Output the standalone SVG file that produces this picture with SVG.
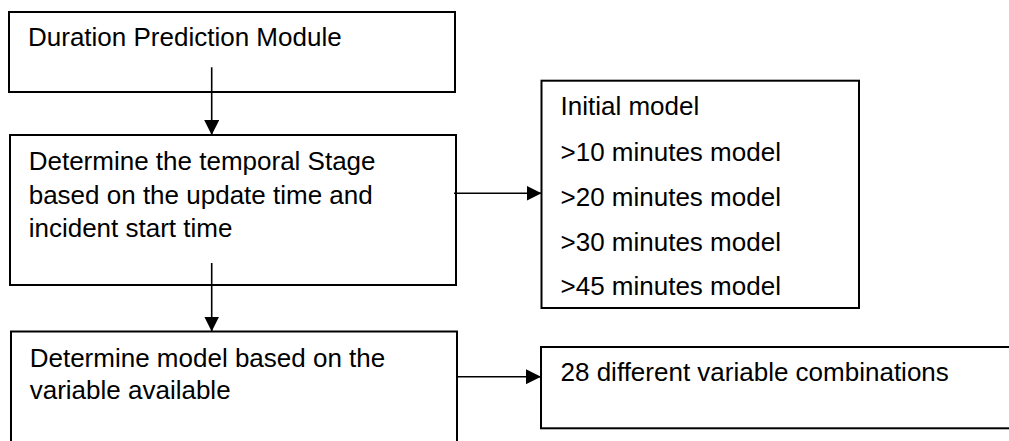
<svg xmlns="http://www.w3.org/2000/svg" width="1009" height="441" viewBox="0 0 1009 441">
<style>
.box{fill:#fff;stroke:#000;stroke-width:2}
.t{font-family:"Liberation Sans",Arial,sans-serif;font-size:26px;fill:#000}
.c{stroke:#000;stroke-width:1.6;fill:none}
</style>
<defs>
<marker id="ah" markerUnits="userSpaceOnUse" markerWidth="15" markerHeight="15" refX="15" refY="7.5" orient="auto">
<path d="M0,0 L15,7.5 L0,15 z" fill="#000"/>
</marker>
</defs>
<rect width="1009" height="441" fill="#fff"/>
<g id="n1">
<rect class="box" x="9" y="12" width="446" height="80"/>
<text class="t" x="28" y="46">Duration Prediction Module</text>
</g>
<g id="n2">
<rect class="box" x="10" y="135" width="446" height="150"/>
<text class="t" x="28.7" y="170">Determine the temporal Stage</text>
<text class="t" x="28.7" y="203.5">based on the update time and</text>
<text class="t" x="28.7" y="237">incident start time</text>
</g>
<g id="n3">
<rect class="box" x="11" y="331.5" width="446" height="130"/>
<text class="t" x="29.7" y="366.7">Determine model based on the</text>
<text class="t" x="29.7" y="399.3">variable available</text>
</g>
<g id="n4">
<rect class="box" x="541.5" y="80.7" width="317.5" height="227.3"/>
<text class="t" x="560.5" y="115">Initial model</text>
<text class="t" x="560.5" y="160.7">&gt;10 minutes model</text>
<text class="t" x="560.5" y="205.7">&gt;20 minutes model</text>
<text class="t" x="560.5" y="250.7">&gt;30 minutes model</text>
<text class="t" x="560.5" y="295.3">&gt;45 minutes model</text>
</g>
<g id="n5">
<rect class="box" x="541" y="347" width="480" height="81.3"/>
<text class="t" x="560.5" y="380.7">28 different variable combinations</text>
</g>
<g id="connectors">
<line class="c" x1="211.7" y1="67.3" x2="211.7" y2="135" marker-end="url(#ah)"/>
<line class="c" x1="211.7" y1="263" x2="211.7" y2="331.5" marker-end="url(#ah)"/>
<line class="c" x1="454" y1="193.3" x2="541.5" y2="193.3" marker-end="url(#ah)"/>
<line class="c" x1="457" y1="376.7" x2="541" y2="376.7" marker-end="url(#ah)"/>
</g>
</svg>
